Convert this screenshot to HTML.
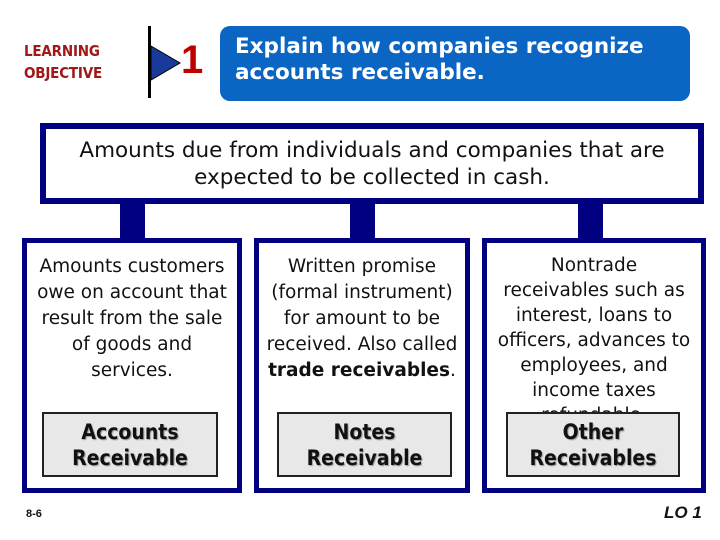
<!DOCTYPE html>
<html><head><meta charset="utf-8"><style>
*{margin:0;padding:0;box-sizing:border-box}
body{width:720px;height:540px;background:#fff;position:relative;overflow:hidden;font-family:"DejaVu Sans","Liberation Sans",sans-serif}
.a{position:absolute}
.lo{left:24px;top:40px;color:#a01818;font-weight:bold;font-size:15px;line-height:22px;font-family:"DejaVu Sans Condensed","DejaVu Sans",sans-serif;letter-spacing:-0.2px}
.bx{border:5px solid #000080;background:#fff}
.t{font-size:18.5px;line-height:26px;text-align:center;color:#111;white-space:nowrap}
.g{background:#e8e8e8;border:2px solid #222;font-weight:bold;font-size:21px;line-height:26px;text-align:center;color:#111;display:flex;align-items:center;justify-content:center;text-shadow:1px 1px 1px #999;font-family:"DejaVu Sans Condensed","DejaVu Sans",sans-serif}
.bar{background:#000080;width:25px;top:200px;height:42px}
</style></head><body>
<div class="a lo">LEARNING<br>OBJECTIVE</div>
<div class="a" style="left:148px;top:26px;width:3px;height:72px;background:#000"></div>
<svg class="a" style="left:150px;top:44px" width="32" height="38"><polygon points="1,2 30,19 1,36" fill="#1a3a9a" stroke="#000" stroke-width="1"/></svg>
<div class="a" style="left:181px;top:38px;color:#c00000;font-weight:bold;font-size:40px;line-height:44px;font-family:'Liberation Sans',sans-serif">1</div>
<div class="a" style="left:220px;top:26px;width:470px;height:75px;background:#0b66c3;border-radius:10px;color:#fff;font-weight:bold;font-size:21.5px;line-height:26px;padding:8px 0 0 15px;white-space:nowrap">Explain how companies recognize<br>accounts receivable.</div>
<div class="a bx" style="left:40px;top:123px;width:664px;height:81px;border-width:6px"><div class="t" style="font-size:21.5px;line-height:27px;padding-top:8px">Amounts due from individuals and companies that are<br>expected to be collected in cash.</div></div>
<div class="a bar" style="left:120px"></div>
<div class="a bar" style="left:350px"></div>
<div class="a bar" style="left:578px"></div>
<div class="a bx" style="left:22px;top:238px;width:220px;height:255px"><div class="t" style="padding-top:11px">Amounts customers<br>owe on account that<br>result from the sale<br>of goods and<br>services.</div></div>
<div class="a bx" style="left:254px;top:238px;width:216px;height:255px"><div class="t" style="padding-top:11px">Written promise<br>(formal instrument)<br>for amount to be<br>received. Also called<br><b>trade receivables</b>.</div></div>
<div class="a bx" style="left:482px;top:238px;width:224px;height:255px;overflow:hidden"><div class="t" style="padding-top:10px;line-height:25px">Nontrade<br>receivables such as<br>interest, loans to<br>officers, advances to<br>employees, and<br>income taxes<br>refundable.</div></div>
<div class="a g" style="left:42px;top:412px;width:176px;height:65px">Accounts<br>Receivable</div>
<div class="a g" style="left:277px;top:412px;width:175px;height:65px">Notes<br>Receivable</div>
<div class="a g" style="left:506px;top:412px;width:174px;height:65px">Other<br>Receivables</div>
<div class="a" style="left:26px;top:508px;font-size:11px;font-weight:bold;color:#111;font-family:'Liberation Sans Narrow','Liberation Sans',sans-serif">8-6</div>
<div class="a" style="left:664px;top:503px;font-size:17px;font-weight:bold;font-style:italic;color:#111;font-family:'Liberation Sans',sans-serif">LO 1</div>
</body></html>
